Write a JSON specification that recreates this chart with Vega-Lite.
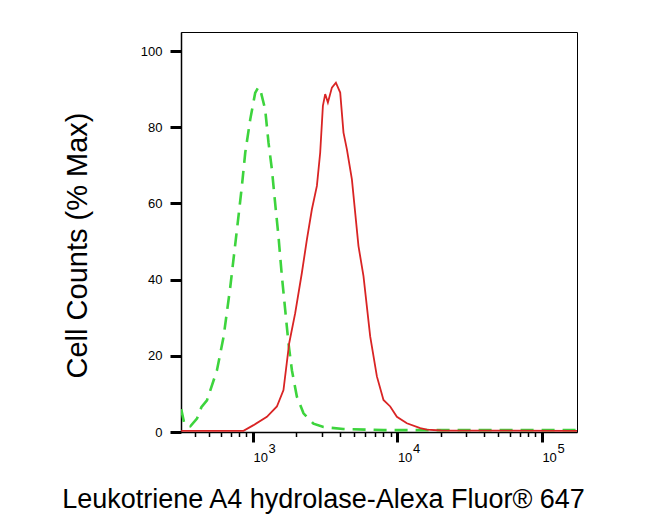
{
  "$schema": "https://vega.github.io/schema/vega-lite/v6.json",
  "width": 396,
  "height": 400,
  "autosize": "none",
  "padding": {"left": 181, "top": 32, "right": 73, "bottom": 88},
  "background": "white",
  "config": {
    "view": {"stroke": "black", "strokeWidth": 1},
    "font": "Liberation Sans"
  },
  "data": {
    "values": [
      {"s": "isotype", "x": 319, "y": 6},
      {"s": "isotype", "x": 336, "y": 2},
      {"s": "isotype", "x": 369, "y": 1.5},
      {"s": "isotype", "x": 410, "y": 3.5},
      {"s": "isotype", "x": 440, "y": 6.5},
      {"s": "isotype", "x": 481, "y": 8.3},
      {"s": "isotype", "x": 564, "y": 16.2},
      {"s": "isotype", "x": 627, "y": 25},
      {"s": "isotype", "x": 697, "y": 38},
      {"s": "isotype", "x": 775, "y": 53},
      {"s": "isotype", "x": 839, "y": 64.5},
      {"s": "isotype", "x": 885, "y": 73.3},
      {"s": "isotype", "x": 958, "y": 82},
      {"s": "isotype", "x": 1037, "y": 89},
      {"s": "isotype", "x": 1090, "y": 90.5},
      {"s": "isotype", "x": 1123, "y": 90},
      {"s": "isotype", "x": 1216, "y": 84.7},
      {"s": "isotype", "x": 1282, "y": 76},
      {"s": "isotype", "x": 1353, "y": 69},
      {"s": "isotype", "x": 1426, "y": 60},
      {"s": "isotype", "x": 1503, "y": 51.4},
      {"s": "isotype", "x": 1587, "y": 40.9},
      {"s": "isotype", "x": 1674, "y": 32},
      {"s": "isotype", "x": 1763, "y": 23.3},
      {"s": "isotype", "x": 1862, "y": 16.2},
      {"s": "isotype", "x": 2015, "y": 9.3},
      {"s": "isotype", "x": 2240, "y": 4.9},
      {"s": "isotype", "x": 2625, "y": 2.2},
      {"s": "isotype", "x": 3081, "y": 1.3},
      {"s": "isotype", "x": 4218, "y": 0.8},
      {"s": "isotype", "x": 8000, "y": 0.5},
      {"s": "isotype", "x": 175000, "y": 0.5},
      {"s": "sample", "x": 319, "y": 0.3},
      {"s": "sample", "x": 861, "y": 0.3},
      {"s": "sample", "x": 1010, "y": 1.8},
      {"s": "sample", "x": 1250, "y": 4.0},
      {"s": "sample", "x": 1466, "y": 6.7},
      {"s": "sample", "x": 1628, "y": 11.0},
      {"s": "sample", "x": 1783, "y": 23.3},
      {"s": "sample", "x": 1962, "y": 31.2},
      {"s": "sample", "x": 2183, "y": 41.8},
      {"s": "sample", "x": 2364, "y": 50.5},
      {"s": "sample", "x": 2559, "y": 58.4},
      {"s": "sample", "x": 2773, "y": 64.6},
      {"s": "sample", "x": 2922, "y": 73.3},
      {"s": "sample", "x": 3051, "y": 85.6},
      {"s": "sample", "x": 3165, "y": 88.7},
      {"s": "sample", "x": 3304, "y": 86.5},
      {"s": "sample", "x": 3522, "y": 90.4},
      {"s": "sample", "x": 3753, "y": 91.7},
      {"s": "sample", "x": 4020, "y": 89.1},
      {"s": "sample", "x": 4236, "y": 78.6},
      {"s": "sample", "x": 4473, "y": 74.2},
      {"s": "sample", "x": 4844, "y": 66.3},
      {"s": "sample", "x": 5380, "y": 48.8},
      {"s": "sample", "x": 5826, "y": 40.9},
      {"s": "sample", "x": 6483, "y": 25.1},
      {"s": "sample", "x": 7213, "y": 14.6},
      {"s": "sample", "x": 8013, "y": 8.4},
      {"s": "sample", "x": 8918, "y": 6.7},
      {"s": "sample", "x": 9920, "y": 4.0},
      {"s": "sample", "x": 11630, "y": 2.3},
      {"s": "sample", "x": 14390, "y": 1.0},
      {"s": "sample", "x": 16000, "y": 0.6},
      {"s": "sample", "x": 20000, "y": 0.4},
      {"s": "sample", "x": 175000, "y": 0.3}
    ]
  },
  "layer": [
    {
      "transform": [{"filter": "datum.s == 'isotype'"}],
      "mark": {"type": "line", "color": "#3dd43d", "strokeWidth": 2.6, "strokeDash": [13, 8], "clip": true},
      "encoding": {
        "x": {
          "field": "x", "type": "quantitative",
          "scale": {"type": "log", "domain": [318, 175000], "nice": false},
          "axis": {
            "orient": "bottom",
            "values": [400, 500, 600, 700, 800, 900, 1000, 2000, 3000, 4000, 5000, 6000, 7000, 8000, 9000, 10000, 20000, 30000, 40000, 50000, 60000, 70000, 80000, 90000, 100000],
            "labelExpr": "(datum.value == 1000 || datum.value == 10000 || datum.value == 100000) ? '10' : ''",
            "tickSize": {"condition": {"test": "datum.value == 1000 || datum.value == 10000 || datum.value == 100000", "value": 10}, "value": 4.5},
            "tickWidth": {"condition": {"test": "datum.value == 1000 || datum.value == 10000 || datum.value == 100000", "value": 3}, "value": 1.5},
            "tickColor": "black",
            "domainColor": "black",
            "domainWidth": 1.5,
            "grid": false,
            "labelOverlap": false,
            "labelFlush": false,
            "labelAlign": "left",
            "labelBaseline": "alphabetic",
            "labelPadding": 19,
            "labelFontSize": 13,
            "labelColor": "black",
            "labelFont": "Liberation Sans",
            "title": "Leukotriene A4 hydrolase-Alexa Fluor® 647",
            "titleFont": "Liberation Sans",
            "titleFontSize": 27,
            "titleFontWeight": "normal",
            "titleColor": "black",
            "titleX": 142,
            "titleY": 75,
            "titleAlign": "center",
            "titleBaseline": "alphabetic"
          }
        },
        "y": {
          "field": "y", "type": "quantitative",
          "scale": {"domain": [0, 105], "nice": false},
          "axis": {
            "values": [0, 5, 10, 15, 20, 25, 30, 35, 40, 45, 50, 55, 60, 65, 70, 75, 80, 85, 90, 95, 100],
            "labelExpr": "datum.value % 20 == 0 ? datum.value : ''",
            "tickSize": {"condition": {"test": "datum.value % 20 == 0", "value": 11}, "value": 4},
            "tickWidth": {"condition": {"test": "datum.value % 20 == 0", "value": 3}, "value": 1.5},
            "tickColor": "black",
            "domainColor": "black",
            "domainWidth": 1.5,
            "grid": false,
            "labelOverlap": false,
            "labelFlush": false,
            "labelPadding": 8,
            "labelFontSize": 13,
            "labelColor": "black",
            "labelFont": "Liberation Sans",
            "title": "Cell Counts (% Max)",
            "titleFont": "Liberation Sans",
            "titleFontSize": 29,
            "titleFontWeight": "normal",
            "titleColor": "black",
            "titleAngle": -90,
            "titleX": -95,
            "titleY": 213,
            "titleAlign": "center",
            "titleBaseline": "alphabetic"
          }
        }
      }
    },
    {
      "transform": [{"filter": "datum.s == 'sample'"}],
      "mark": {"type": "line", "color": "#d92424", "strokeWidth": 1.8, "clip": true},
      "encoding": {
        "x": {
          "field": "x", "type": "quantitative",
          "scale": {"type": "log", "domain": [318, 175000], "nice": false},
          "axis": {
            "orient": "bottom",
            "values": [1000, 10000, 100000],
            "labelExpr": "datum.value == 1000 ? '3' : datum.value == 10000 ? '4' : '5'",
            "ticks": false,
            "tickSize": 0,
            "domain": false,
            "grid": false,
            "labelOverlap": false,
            "labelFlush": false,
            "labelAlign": "left",
            "labelBaseline": "alphabetic",
            "labelOffset": 15,
            "labelPadding": 20,
            "labelFontSize": 13,
            "labelColor": "black",
            "labelFont": "Liberation Sans",
            "title": null
          }
        },
        "y": {"field": "y", "type": "quantitative"}
      }
    }
  ],
  "resolve": {"axis": {"x": "independent"}}
}
